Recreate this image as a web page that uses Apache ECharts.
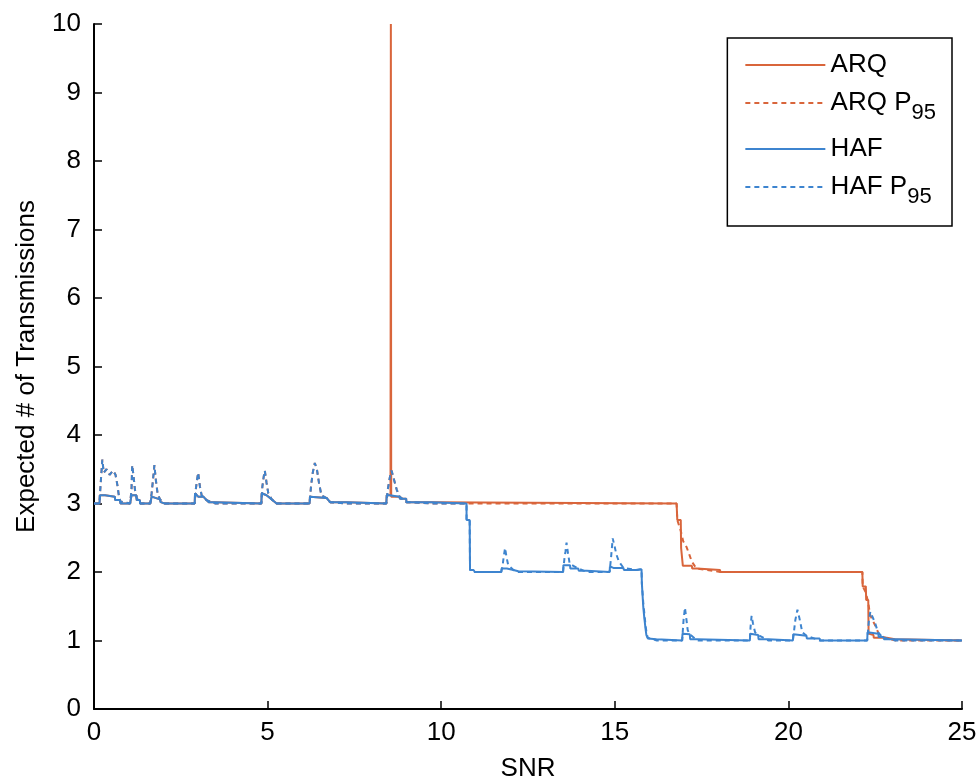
<!DOCTYPE html>
<html>
<head>
<meta charset="utf-8">
<script src="https://cdn.jsdelivr.net/npm/echarts@6/dist/echarts.min.js"></script>
<style>
  html, body { margin: 0; padding: 0; background: #fff; }
  #chart { width: 978px; height: 781px; }
</style>
</head>
<body>
<div id="chart"></div>
<script>
// Low-SNR segment (0 .. 8.42 dB) where both schemes give the same curve
const lowSnr = [0, 0.16, 0.17, 0.32, 0.33, 0.6, 0.61, 0.75, 0.76, 1.04, 1.08, 1.22, 1.23, 1.32, 1.33, 1.62, 1.66, 1.9, 1.92, 2.04,
  2.9, 2.91, 3.0, 3.15, 3.24, 3.3, 3.48, 3.5, 4.82, 4.83, 4.97, 5.12, 5.26, 6.21, 6.22, 6.7, 6.8, 7.28, 7.3, 8.42];
const lowVal = [3, 3, 3.12, 3.12, 3.1, 3.1, 3.05, 3.05, 3.0, 3.0, 3.12, 3.12, 3.05, 3.05, 3.0, 3.0, 3.1, 3.06, 3.02, 3.0,
  3.0, 3.15, 3.1, 3.1, 3.05, 3.02, 3.02, 3.0, 3.0, 3.15, 3.12, 3.06, 3.0, 3.0, 3.1, 3.08, 3.02, 3.02, 3.0, 3.0];

const lowP95Snr = [0, 0.16, 0.17, 0.2, 0.24, 0.28, 0.36, 0.45, 0.55, 0.62, 0.68, 0.72, 0.76, 1.04, 1.08, 1.1, 1.14, 1.18, 1.23, 1.33,
  1.62, 1.66, 1.7, 1.74, 1.78, 1.83, 1.9, 2.04, 2.9, 2.93, 2.97, 3.0, 3.05, 3.1, 3.24, 3.5, 4.82, 4.85, 4.89, 4.92,
  4.97, 5.02, 5.12, 5.26, 6.21, 6.25, 6.3, 6.36, 6.42, 6.48, 6.55, 6.7, 6.8, 7.3, 8.42];
const lowP95Val = [3, 3, 3.12, 3.35, 3.64, 3.45, 3.5, 3.42, 3.48, 3.42, 3.25, 3.1, 3.03, 3.0, 3.2, 3.56, 3.4, 3.2, 3.08, 3.0,
  3.0, 3.15, 3.35, 3.56, 3.35, 3.15, 3.06, 3.0, 3.0, 3.2, 3.35, 3.45, 3.25, 3.12, 3.05, 3.0, 3.0, 3.25, 3.4, 3.48,
  3.3, 3.15, 3.06, 3.0, 3.0, 3.25, 3.45, 3.59, 3.5, 3.3, 3.12, 3.08, 3.02, 3.0, 3.0];

// ARQ above 8.42 dB
const arqSnr = [8.43, 8.54, 8.55, 8.56, 8.8, 8.81, 8.99, 9.0, 9.73, 9.74, 16.78, 16.8, 16.9, 16.91, 16.96, 17.22, 17.23, 17.36, 17.37, 18.03,
  18.04, 22.13, 22.14, 22.23, 22.24, 22.3, 22.31, 22.45, 22.46, 22.83, 22.84, 23.07, 23.08, 25];
const arqVal = [3.12, 3.12, 10, 3.1, 3.1, 3.07, 3.07, 3.02, 3.02, 3.0, 3.0, 2.76, 2.76, 2.35, 2.09, 2.09, 2.05, 2.05, 2.03, 2.03,
  2.0, 2.0, 1.79, 1.79, 1.59, 1.59, 1.1, 1.08, 1.04, 1.04, 1.02, 1.02, 1.0, 1.0];

const arqP95Snr = [8.46, 8.52, 8.57, 8.64, 8.72, 8.8, 9.0, 9.74, 16.78, 16.8, 16.9, 16.97, 17.07, 17.15, 17.22, 17.3, 17.36, 17.65, 18.04,
  22.13, 22.14, 22.23, 22.3, 22.35, 22.42, 22.5, 22.6, 22.75, 22.9, 23.1, 25];
const arqP95Val = [3.2, 3.38, 3.48, 3.35, 3.2, 3.1, 3.02, 3.0, 3.0, 2.76, 2.6, 2.45, 2.36, 2.25, 2.15, 2.09, 2.05, 2.03, 2.0,
  2.0, 1.79, 1.7, 1.55, 1.38, 1.3, 1.22, 1.1, 1.05, 1.02, 1.0, 1.0];

// HAF above 8.42 dB
const hafSnr = [8.43, 8.52, 8.53, 8.8, 8.81, 8.99, 9.0, 9.73, 9.74, 10.73, 10.73, 10.82, 10.83, 10.93, 10.97, 11.73, 11.74, 11.89, 11.9, 12.08,
  12.09, 12.22, 12.23, 13.51, 13.52, 13.71, 13.72, 13.95, 13.96, 14.19, 14.2, 14.85, 14.86, 14.96, 15.25, 15.26, 15.63, 15.64, 15.77, 15.78,
  15.82, 15.85, 15.89, 15.91, 15.95, 16.2, 16.21, 16.94, 16.95, 17.16, 17.17, 17.36, 17.37, 18.89, 18.9, 19.13, 19.14, 19.42, 19.43, 20.13,
  20.14, 20.52, 20.53, 20.9, 20.91, 22.27, 22.28, 22.59, 22.6, 22.74, 22.75, 23.07, 23.08, 25];
const hafVal = [3.12, 3.12, 3.1, 3.1, 3.07, 3.07, 3.02, 3.02, 3.0, 3.0, 2.76, 2.76, 2.03, 2.03, 2.0, 2.0, 2.05, 2.05, 2.03, 2.03,
  2.01, 2.01, 2.0, 2.0, 2.1, 2.1, 2.05, 2.05, 2.02, 2.02, 2.0, 2.0, 2.08, 2.06, 2.06, 2.03, 2.03, 2.04, 2.04, 1.83,
  1.49, 1.33, 1.15, 1.08, 1.03, 1.02, 1.0, 1.0, 1.1, 1.09, 1.02, 1.02, 1.0, 1.0, 1.1, 1.08, 1.02, 1.02, 1.0, 1.0,
  1.09, 1.07, 1.03, 1.03, 1.0, 1.0, 1.12, 1.1, 1.05, 1.05, 1.02, 1.02, 1.0, 1.0];

const hafP95Snr = [8.46, 8.52, 8.57, 8.64, 8.72, 8.8, 9.0, 9.74, 10.73, 10.73, 10.82, 10.83, 10.97, 11.73, 11.77, 11.8, 11.84, 11.88, 11.93, 12.08,
  12.23, 13.51, 13.55, 13.58, 13.61, 13.65, 13.7, 13.95, 14.2, 14.85, 14.89, 14.94, 15.0, 15.05, 15.12, 15.25, 15.63, 15.77, 15.78, 15.82,
  15.85, 15.89, 15.92, 15.95, 16.21, 16.94, 16.98, 17.02, 17.06, 17.1, 17.16, 17.37, 18.89, 18.91, 18.94, 18.98, 19.04, 19.13, 19.43, 20.13,
  20.2, 20.26, 20.32, 20.4, 20.52, 20.91, 22.27, 22.32, 22.36, 22.42, 22.5, 22.58, 22.7, 22.9, 23.08, 25];
const hafP95Val = [3.2, 3.38, 3.48, 3.35, 3.2, 3.1, 3.02, 3.0, 3.0, 2.76, 2.76, 2.03, 2.0, 2.0, 2.1, 2.22, 2.35, 2.22, 2.1, 2.03,
  2.0, 2.0, 2.2, 2.3, 2.43, 2.28, 2.12, 2.05, 2.0, 2.0, 2.2, 2.49, 2.36, 2.25, 2.15, 2.06, 2.03, 2.04, 1.83, 1.55,
  1.4, 1.2, 1.1, 1.04, 1.0, 1.0, 1.3, 1.48, 1.32, 1.15, 1.09, 1.0, 1.0, 1.2, 1.36, 1.25, 1.12, 1.08, 1.0, 1.0,
  1.3, 1.45, 1.32, 1.12, 1.07, 1.0, 1.0, 1.3, 1.42, 1.35, 1.25, 1.12, 1.05, 1.02, 1.0, 1.0];

const xTicks = [0, 5, 10, 15, 20, 25];
const yTicks = [0, 1, 2, 3, 4, 5, 6, 7, 8, 9, 10];

const RED = '#D9653B';
const BLUE = '#3D84CF';
const FONT = '"Liberation Sans", Arial, Helvetica, sans-serif';

function pairs(xs, ys) {
  return xs.map((x, i) => [x, ys[i]]);
}

const arqData = pairs(lowSnr, lowVal).concat(pairs(arqSnr, arqVal));
const arqP95Data = pairs(lowP95Snr, lowP95Val).concat(pairs(arqP95Snr, arqP95Val));
const hafData = pairs(lowSnr, lowVal).concat(pairs(hafSnr, hafVal));
const hafP95Data = pairs(lowP95Snr, lowP95Val).concat(pairs(hafP95Snr, hafP95Val));

function lineSeries(name, data, color, dashed) {
  return {
    name: name,
    type: 'line',
    data: data,
    showSymbol: false,
    symbol: 'none',
    animation: false,
    lineStyle: { color: color, width: 2, type: dashed ? [5, 4] : 'solid' },
    itemStyle: { color: color }
  };
}

const chart = echarts.init(document.getElementById('chart'), null, { renderer: 'canvas' });

const axisText = { color: '#000', fontFamily: FONT, fontSize: 26 };

chart.setOption({
  backgroundColor: '#fff',
  animation: false,
  grid: { left: 94, right: 16, top: 24, bottom: 72, containLabel: false, outerBoundsMode: 'none' },
  legend: {
    orient: 'vertical',
    right: 26,
    top: 38,
    padding: [14, 16, 18, 17],
    itemGap: 12,
    itemWidth: 80,
    itemHeight: 16,
    borderColor: '#000',
    borderWidth: 1.5,
    backgroundColor: '#fff',
    itemStyle: { opacity: 0 },
    data: ['ARQ', 'ARQ P95', 'HAF', 'HAF P95'],
    // "P95" is written with a subscript; the strut token keeps every row the same height
    formatter: function (name) {
      const m = name.match(/^(.*) P95$/);
      if (m) return '{t| }{n|' + m[1] + ' P}{s|95}';
      return '{t| }{n|' + name + '}';
    },
    textStyle: {
      color: '#000',
      fontFamily: FONT,
      rich: {
        t: { fontSize: 1, lineHeight: 42, verticalAlign: 'middle' },
        n: { fontSize: 26, lineHeight: 26, fontFamily: FONT, color: '#000', verticalAlign: 'middle' },
        s: { fontSize: 22, lineHeight: 22, fontFamily: FONT, color: '#000', verticalAlign: 'bottom' }
      }
    }
  },
  xAxis: {
    type: 'value',
    min: xTicks[0],
    max: xTicks[xTicks.length - 1],
    interval: xTicks[1] - xTicks[0],
    name: 'SNR',
    nameLocation: 'middle',
    nameGap: 47,
    nameTextStyle: axisText,
    axisLine: { show: true, lineStyle: { color: '#000', width: 2 } },
    axisTick: { show: true, inside: true, length: 8, lineStyle: { color: '#000', width: 1.5 } },
    axisLabel: Object.assign({ margin: 11 }, axisText),
    splitLine: { show: false }
  },
  yAxis: {
    type: 'value',
    min: yTicks[0],
    max: yTicks[yTicks.length - 1],
    interval: yTicks[1] - yTicks[0],
    name: 'Expected # of Transmissions',
    nameLocation: 'middle',
    nameRotate: 90,
    nameGap: 54,
    nameTextStyle: axisText,
    axisLine: { show: true, lineStyle: { color: '#000', width: 2 } },
    axisTick: { show: true, inside: true, length: 8, lineStyle: { color: '#000', width: 1.5 } },
    axisLabel: Object.assign({ margin: 13 }, axisText),
    splitLine: { show: false }
  },
  series: [
    lineSeries('ARQ', arqData, RED, false),
    lineSeries('ARQ P95', arqP95Data, RED, true),
    lineSeries('HAF', hafData, BLUE, false),
    lineSeries('HAF P95', hafP95Data, BLUE, true)
  ]
});
</script>
</body>
</html>
